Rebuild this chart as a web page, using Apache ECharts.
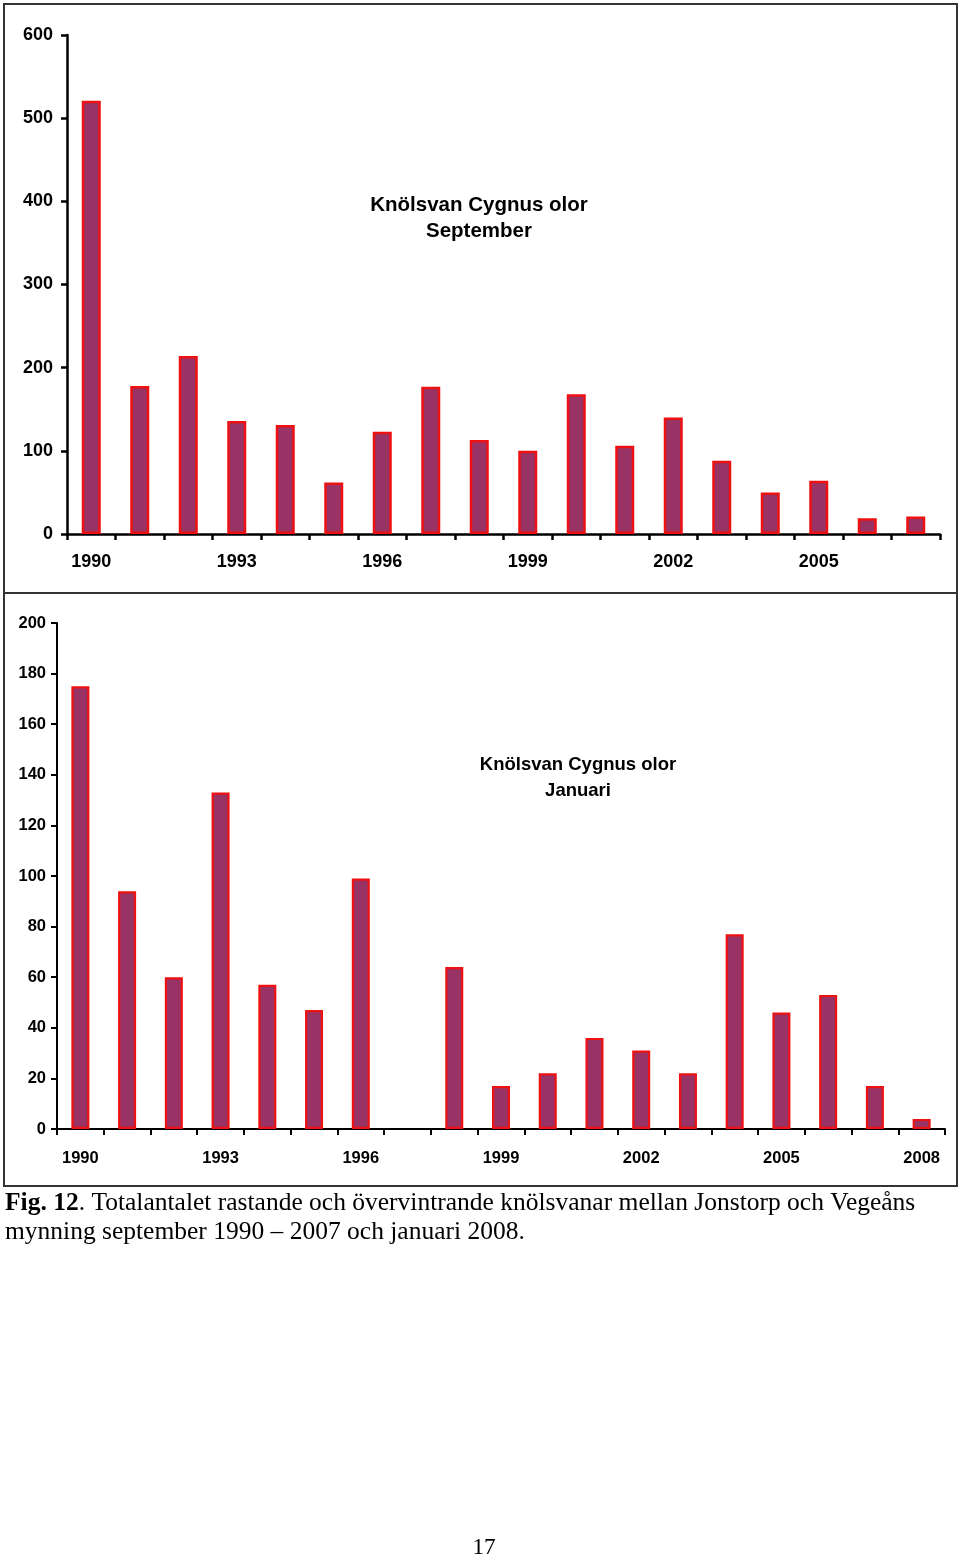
<!DOCTYPE html>
<html>
<head>
<meta charset="utf-8">
<script src="https://cdn.jsdelivr.net/npm/echarts@6/dist/echarts.min.js"></script>
<style>
html,body{margin:0;padding:0;background:#fff;}
#c{width:960px;height:1558px;}
</style>
</head>
<body>
<div id="c"></div>
<script>
// Data
const septYears = ['1990','1991','1992','1993','1994','1995','1996','1997','1998','1999','2000','2001','2002','2003','2004','2005','2006','2007'];
const septValues = [521,178,214,136,131,62,123,177,113,100,168,106,140,88,50,64,19,21];
const janYears = ['1990','1991','1992','1993','1994','1995','1996','1997','1998','1999','2000','2001','2002','2003','2004','2005','2006','2007','2008'];
const janValues = [175,94,60,133,57,47,99,null,64,17,22,36,31,22,77,46,53,17,4];
const septTicks = [0,100,200,300,400,500,600];
const janTicks = [0,20,40,60,80,100,120,140,160,180,200];
const septTitle = 'Knölsvan Cygnus olor\nSeptember';
const janTitle = 'Knölsvan Cygnus olor\nJanuari';
const captionLine1 = 'Totalantalet rastande och övervintrande knölsvanar mellan Jonstorp och Vegeåns';
const captionLine2 = 'mynning september 1990 – 2007 och januari 2008.';
const pageNumber = '17';

const SANS = 'Liberation Sans, Arial, Helvetica, sans-serif';
const SERIF = 'Liberation Serif, Times New Roman, serif';
const FILL = '#993366';
const EDGE = '#ee1111';

const chart = echarts.init(document.getElementById('c'), null, {renderer:'canvas'});

function xAxisCfg(idx, data, fs, lw, margin) {
  return {
    type:'category', gridIndex: idx, data: data, boundaryGap: true,
    axisLine:{show:true, lineStyle:{color:'#000', width: lw}},
    axisTick:{show:true, interval:0, length:6, inside:false, lineStyle:{color:'#000', width: lw}},
    axisLabel:{interval:2, color:'#000', fontFamily:SANS, fontWeight:'bold', fontSize:fs, margin:margin},
    splitLine:{show:false}
  };
}
function yAxisCfg(idx, max, interval, fs, lw, margin) {
  return {
    type:'value', gridIndex: idx, min:0, max:max, interval:interval,
    axisLine:{show:true, lineStyle:{color:'#000', width: lw}},
    axisTick:{show:true, length:6, lineStyle:{color:'#000', width: lw}},
    axisLabel:{color:'#000', fontFamily:SANS, fontWeight:'bold', fontSize:fs, margin:margin},
    splitLine:{show:false}
  };
}

const option = {
  backgroundColor:'#fff',
  animation:false,
  grid:[
    {left:67, top:35, width:873, height:499},
    {left:57, top:623, width:888, height:506}
  ],
  xAxis:[
    xAxisCfg(0, septYears, 18, 2.5, 19),
    xAxisCfg(1, janYears, 16.5, 2, 21)
  ],
  yAxis:[
    yAxisCfg(0, septTicks[septTicks.length-1], septTicks[1]-septTicks[0], 18, 2.5, 14),
    yAxisCfg(1, janTicks[janTicks.length-1], janTicks[1]-janTicks[0], 16.5, 2, 11)
  ],
  series:[
    {type:'bar', xAxisIndex:0, yAxisIndex:0, data:septValues, barWidth:19,
     itemStyle:{color:FILL, borderColor:EDGE, borderWidth:2.5}},
    {type:'bar', xAxisIndex:1, yAxisIndex:1, data:janValues, barWidth:18,
     itemStyle:{color:FILL, borderColor:EDGE, borderWidth:2.2}}
  ],
  graphic:[
    {type:'rect', shape:{x:4, y:4, width:953, height:589}, style:{fill:'none', stroke:'#333', lineWidth:2}, z:-1},
    {type:'rect', shape:{x:4, y:593, width:953, height:593}, style:{fill:'none', stroke:'#333', lineWidth:2}, z:-1},
    {type:'text', x:479, y:192, style:{text:septTitle, fill:'#000', font:'bold 20.5px ' + SANS, align:'center', verticalAlign:'top', lineHeight:26}},
    {type:'text', x:578, y:752, style:{text:janTitle, fill:'#000', font:'bold 18.5px ' + SANS, align:'center', verticalAlign:'top', lineHeight:26}},
    {type:'text', x:5, y:1189, style:{
      text:'{b|Fig. 12}. ' + captionLine1 + '\n' + captionLine2,
      fill:'#000', font:'25.5px ' + SERIF, lineHeight:29, align:'left', verticalAlign:'top',
      rich:{b:{fontWeight:'bold', fontFamily:SERIF, fontSize:25.5, fill:'#000', lineHeight:29}}
    }},
    {type:'text', x:484, y:1548, style:{text:pageNumber, fill:'#000', font:'23px ' + SERIF, align:'center', verticalAlign:'middle'}}
  ]
};
chart.setOption(option);
</script>
</body>
</html>
